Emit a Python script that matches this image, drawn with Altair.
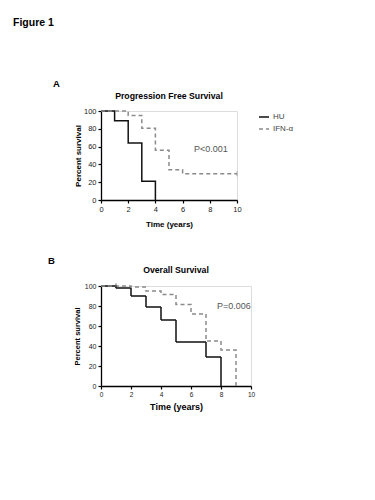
import altair as alt
import pandas as pd

FONT = "Liberation Sans"

# Panel A: Progression Free Survival
pfs_hu_t = [0, 1, 2, 3, 4]
pfs_hu_s = [100, 89, 64, 21, 0]
pfs_ifn_t = [0, 2, 3, 4, 5, 6, 10]
pfs_ifn_s = [100, 95, 80.5, 56, 34, 29.5, 29.5]
pfs_cens_t = [10]
pfs_cens_s = [29.5]
pfs_cens_g = ["IFN-α"]

# Panel B: Overall Survival
os_hu_t = [0, 1, 2, 3, 4, 5, 7, 8]
os_hu_s = [100, 98, 90, 79, 66, 44, 29, 0]
os_ifn_t = [0, 2, 3, 4, 5, 6, 7, 8, 9]
os_ifn_s = [100, 99, 95, 91.5, 81.5, 72, 45, 36, 0]
os_cens_t = [1]
os_cens_s = [100]
os_cens_g = ["HU"]

groups = ["HU", "IFN-α"]
colors = ["#111111", "#8a8a8a"]
x_ticks = [0, 2, 4, 6, 8, 10]
y_ticks = [0, 20, 40, 60, 80, 100]


def frame(t1, s1, t2, s2):
    rows = [{"t": t, "s": s, "g": groups[0]} for t, s in zip(t1, s1)]
    rows += [{"t": t, "s": s, "g": groups[1]} for t, s in zip(t2, s2)]
    return pd.DataFrame(rows)


def txt(s, x, y, size, bold=True, color="black", align="left", opacity=1):
    return alt.Chart(pd.DataFrame({"l": [s]})).mark_text(
        font=FONT, fontSize=size, fontWeight="bold" if bold else "normal",
        color=color, align=align, baseline="middle", opacity=opacity
    ).encode(text="l:N", x=alt.value(x), y=alt.value(y))


def panel(df, cens, w, h, xl, yl, xtfs, ytfs, xtp, ytp, show_legend, extra):
    x = alt.X("t:Q", scale=alt.Scale(domain=[0, 10], nice=False),
              axis=alt.Axis(values=x_ticks, tickCount=6, title="Time (years)", grid=False,
                            domainColor="black", tickColor="black", tickSize=3,
                            labelFontSize=xl, labelColor="#222", labelFont=FONT,
                            labelOverlap=False, labelFlush=False,
                            titleFont=FONT, titleFontSize=xtfs, titleFontWeight="bold",
                            titlePadding=xtp, labelPadding=2, domainWidth=1.3, tickWidth=1.2))
    y = alt.Y("s:Q", scale=alt.Scale(domain=[0, 100], nice=False),
              axis=alt.Axis(values=y_ticks, tickCount=6, title="Percent survival", grid=False,
                            domainColor="black", tickColor="black", tickSize=3,
                            labelFontSize=yl, labelColor="#222", labelFont=FONT,
                            labelOverlap=False, labelFlush=False,
                            titleFont=FONT, titleFontSize=ytfs, titleFontWeight="bold",
                            titlePadding=ytp, labelPadding=2, domainWidth=1.3, tickWidth=1.2))
    legend = alt.Legend(title=None, orient="none", legendX=157, legendY=0,
                        symbolType="stroke", symbolSize=100, symbolStrokeWidth=1.4,
                        labelFont=FONT, labelFontSize=8, labelColor="#444",
                        labelOffset=3, rowPadding=2, padding=0) if show_legend else None
    cscale = alt.Scale(domain=groups, range=colors)
    lines = alt.Chart(df).mark_line(interpolate="step-after", strokeWidth=1.5).encode(
        x=x, y=y,
        color=alt.Color("g:N", scale=cscale, legend=legend),
        strokeDash=alt.StrokeDash("g:N", scale=alt.Scale(domain=groups, range=[[1, 0], [4, 3]]),
                                  legend=legend),
    )
    ticks = alt.Chart(cens).mark_tick(orient="vertical", size=5, thickness=1).encode(
        x=x, y=y, color=alt.Color("g:N", scale=cscale, legend=None))
    return alt.layer(lines, ticks, *extra).properties(width=w, height=h)


cens_a = pd.DataFrame({"t": pfs_cens_t, "s": pfs_cens_s, "g": pfs_cens_g})
cens_b = pd.DataFrame({"t": os_cens_t, "s": os_cens_s, "g": os_cens_g})

a = panel(frame(pfs_hu_t, pfs_hu_s, pfs_ifn_t, pfs_ifn_s), cens_a, 136, 89,
          7.5, 7.5, 8, 8, 8, 1, True,
          [txt("Figure 1", -88, -88, 10.5),
           txt("A", -48, -27, 9.5),
           txt("Progression Free Survival", 68, -15.5, 8.7, align="center"),
           txt("P<0.001", 93, 38, 9, bold=False, color="#555")])
b = panel(frame(os_hu_t, os_hu_s, os_ifn_t, os_ifn_s), cens_b, 150, 100,
          6.5, 7, 9, 7.5, 5, 3, False,
          [txt(".", -88, -20, 6, opacity=0),
           txt("B", -53, -25.5, 9.5),
           txt("Overall Survival", 75, -16.5, 8.7, align="center"),
           txt("P=0.006", 116, 20, 9, bold=False, color="#555")])

chart = alt.vconcat(a, b, spacing=26).resolve_scale(
    color="independent", strokeDash="independent"
).properties(
    padding={"left": 12, "top": 17, "right": 0, "bottom": 0},
).configure_view(stroke=None).configure(background="white")

chart.save("out.html", embed_options={"renderer": "svg", "actions": False})
